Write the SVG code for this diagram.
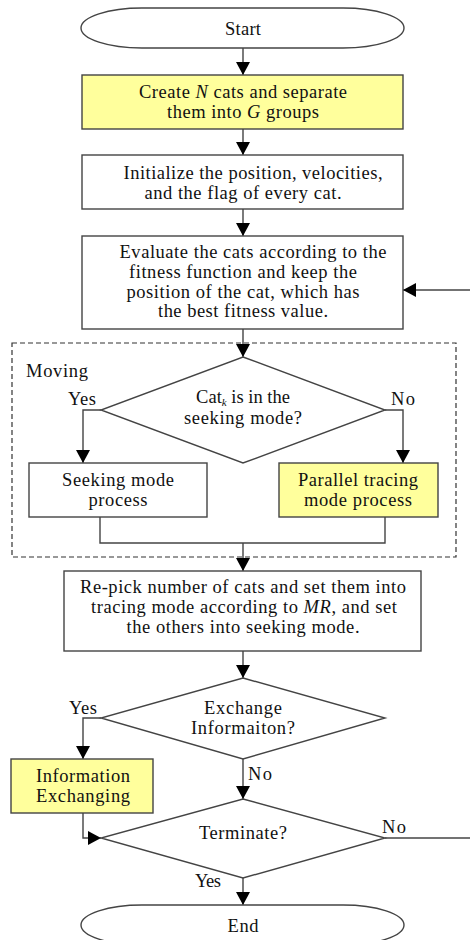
<svg xmlns="http://www.w3.org/2000/svg" width="470" height="940" viewBox="0 0 470 940">
<defs>
<marker id="ah" markerUnits="userSpaceOnUse" markerWidth="14" markerHeight="14" viewBox="0 0 14 14" refX="13" refY="7" orient="auto">
<path d="M0,0 L13,7 L0,14 Z" fill="#000"/>
</marker>
<style>
.t{font-size:18.5px;fill:#111;text-anchor:middle}
.l{font-size:18.5px;fill:#111}
.box{fill:#fff;stroke:#444;stroke-width:1.4}
.yel{fill:#ffff9c;stroke:#444;stroke-width:1.4}
.c{fill:none;stroke:#444;stroke-width:1.4}
.a{fill:none;stroke:#444;stroke-width:1.4;marker-end:url(#ah)}
</style>
</defs>
<rect width="470" height="940" fill="#fff"/>
<g id="connectors">
<line class="a" x1="243" y1="48" x2="243" y2="75"/>
<line class="a" x1="243" y1="129" x2="243" y2="155"/>
<line class="a" x1="243" y1="209" x2="243" y2="236"/>
<line class="a" x1="470" y1="290" x2="403" y2="290"/>
<line class="a" x1="243" y1="329" x2="243" y2="357"/>
<polyline class="a" points="101,410 83,410 83,463"/>
<polyline class="a" points="385,410 403,410 403,463"/>
<polyline class="c" points="100,517 100,543 385,543 385,517"/>
<line class="a" x1="243" y1="543" x2="243" y2="571"/>
<line class="a" x1="243" y1="651" x2="243" y2="678"/>
<polyline class="a" points="101,718 83,718 83,759"/>
<line class="a" x1="243" y1="759" x2="243" y2="799"/>
<polyline class="a" points="83,813 83,838 101,838"/>
<line class="c" x1="385" y1="838" x2="470" y2="838"/>
<line class="a" x1="243" y1="878" x2="243" y2="905"/>
</g>
<g font-family="'Liberation Serif', 'Times New Roman', 'DejaVu Serif', serif">
<g id="moving">
<rect x="12" y="343" width="444" height="214" fill="none" stroke="#333" stroke-width="1.2" stroke-dasharray="5,3"/>
<text class="l" x="26" y="377" textLength="62" lengthAdjust="spacing">Moving</text>
</g>
<g id="start">
<path class="box" d="M142,8 H343 A61,20 0 0 1 343,48 H142 A61,20 0 0 1 142,8 Z"/>
<text class="t" x="243" y="35" textLength="36" lengthAdjust="spacing">Start</text>
</g>
<g id="create">
<rect class="yel" x="82" y="75" width="321" height="54"/>
<text class="t" x="243" y="98" textLength="208" lengthAdjust="spacing">Create <tspan font-style="italic">N</tspan> cats and separate</text>
<text class="t" x="243" y="118" textLength="152" lengthAdjust="spacing">them into <tspan font-style="italic">G</tspan> groups</text>
</g>
<g id="init">
<rect class="box" x="82" y="155" width="321" height="54"/>
<text class="t" x="253" y="179" textLength="259" lengthAdjust="spacing">Initialize the position, velocities,</text>
<text class="t" x="243" y="199" textLength="197" lengthAdjust="spacing">and the flag of every cat.</text>
</g>
<g id="evaluate">
<rect class="box" x="82" y="236" width="321" height="93"/>
<text class="t" x="253" y="258" textLength="267" lengthAdjust="spacing">Evaluate the cats according to the</text>
<text class="t" x="243" y="278" textLength="228" lengthAdjust="spacing">fitness function and keep the</text>
<text class="t" x="243" y="298" textLength="233" lengthAdjust="spacing">position of the cat, which has</text>
<text class="t" x="243" y="317" textLength="170" lengthAdjust="spacing">the best fitness value.</text>
</g>
<g id="decision-seek">
<polygon class="box" points="243,357 385,410 243,463 101,410"/>
<text class="t" x="243" y="403">Cat<tspan font-style="italic" font-size="11" dy="2.5">k</tspan><tspan dy="-2.5"> is in the</tspan></text>
<text class="t" x="243" y="424" textLength="118" lengthAdjust="spacing">seeking mode?</text>
<text class="l" x="68" y="405" textLength="28" lengthAdjust="spacing">Yes</text>
<text class="l" x="391" y="405" textLength="24" lengthAdjust="spacing">No</text>
</g>
<g id="seeking">
<rect class="box" x="29" y="463" width="178" height="54"/>
<text class="t" x="118" y="486" textLength="112" lengthAdjust="spacing">Seeking mode</text>
<text class="t" x="118" y="506" textLength="59" lengthAdjust="spacing">process</text>
</g>
<g id="parallel">
<rect class="yel" x="279" y="463" width="159" height="54"/>
<text class="t" x="358" y="486" textLength="120" lengthAdjust="spacing">Parallel tracing</text>
<text class="t" x="358" y="506" textLength="108" lengthAdjust="spacing">mode process</text>
</g>
<g id="repick">
<rect class="box" x="64" y="571" width="357" height="80"/>
<text class="t" x="243" y="593" textLength="326" lengthAdjust="spacing">Re-pick number of cats and set them into</text>
<text class="t" x="244" y="613" textLength="306" lengthAdjust="spacing">tracing mode according to <tspan font-style="italic">MR</tspan>, and set</text>
<text class="t" x="243" y="633" textLength="233" lengthAdjust="spacing">the others into seeking mode.</text>
</g>
<g id="decision-exchange">
<polygon class="box" points="243,678 385,718 243,759 101,718"/>
<text class="t" x="243" y="714" textLength="78" lengthAdjust="spacing">Exchange</text>
<text class="t" x="243" y="734" textLength="104" lengthAdjust="spacing">Informaiton?</text>
<text class="l" x="69" y="714" textLength="28" lengthAdjust="spacing">Yes</text>
<text class="l" x="248" y="780" textLength="24" lengthAdjust="spacing">No</text>
</g>
<g id="info-exchange">
<rect class="yel" x="11" y="759" width="142" height="54"/>
<text class="t" x="83" y="782" textLength="94" lengthAdjust="spacing">Information</text>
<text class="t" x="83" y="802" textLength="94" lengthAdjust="spacing">Exchanging</text>
</g>
<g id="decision-terminate">
<polygon class="box" points="243,799 385,838 243,878 101,838"/>
<text class="t" x="243" y="839" textLength="88" lengthAdjust="spacing">Terminate?</text>
<text class="l" x="382" y="833" textLength="24" lengthAdjust="spacing">No</text>
<text class="l" x="195" y="887" textLength="26" lengthAdjust="spacing">Yes</text>
</g>
<g id="end">
<path class="box" d="M142,905 H343 A61,20 0 0 1 343,945 H142 A61,20 0 0 1 142,905 Z"/>
<text class="t" x="243" y="932" textLength="31" lengthAdjust="spacing">End</text>
</g>
</g>
</svg>
